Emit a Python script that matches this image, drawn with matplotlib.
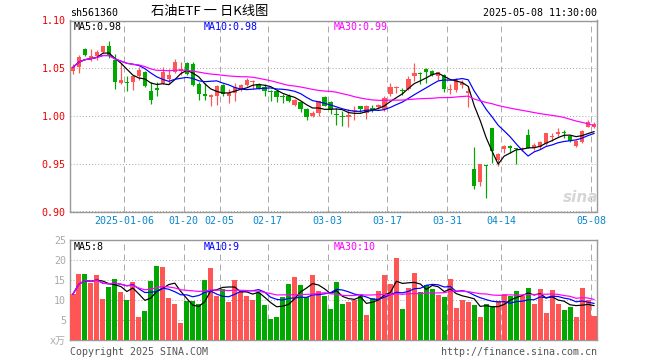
import numpy as np
import pandas as pd
import matplotlib
matplotlib.use("Agg")
import matplotlib.pyplot as plt

W, H = 660, 360

dates = ([f"2024-12-{d:02d}" for d in (23, 24, 25, 26, 27, 30, 31)] +
         [f"2025-01-{d:02d}" for d in (2, 3, 6, 7, 8, 9, 10, 13, 14, 15, 16, 17, 20, 21, 22, 23, 24, 27)] +
         [f"2025-02-{d:02d}" for d in (5, 6, 7, 10, 11, 12, 13, 14, 17, 18, 19, 20, 21, 24, 25, 26, 27, 28)] +
         [f"2025-03-{d:02d}" for d in (3, 4, 5, 6, 7, 10, 11, 12, 13, 14, 17, 18, 19, 20, 21, 24, 25, 26, 27, 28, 31)] +
         [f"2025-04-{d:02d}" for d in (1, 2, 3, 7, 8, 9, 10, 11, 14, 15, 16, 17, 18, 21, 22, 23, 24, 25, 28, 29, 30)] +
         [f"2025-05-{d:02d}" for d in (6, 7, 8)])

opens = [1.047, 1.051, 1.070, 1.061, 1.063, 1.067, 1.073, 1.059, 1.035, 1.036,
         1.036, 1.042, 1.046, 1.026, 1.029, 1.035, 1.039, 1.046, 1.047, 1.055,
         1.054, 1.034, 1.023, 1.020, 1.021, 1.032, 1.021, 1.024, 1.027, 1.032,
         1.036, 1.034, 1.030, 1.026, 1.026, 1.021, 1.021, 1.011, 1.015, 1.007,
         1.000, 1.003, 1.020, 1.015, 1.002, 1.000, 0.999, 1.005, 1.010, 1.003,
         1.008, 1.009, 1.007, 1.023, 1.029, 1.027, 1.028, 1.042, 1.045, 1.049,
         1.047, 1.042, 1.043, 1.027, 1.027, 1.032, 1.024, 0.945, 0.931, 0.949,
         0.987, 0.954, 0.965, 0.969, 0.966, 0.965, 0.980, 0.966, 0.968, 0.971,
         0.978, 0.981, 0.983, 0.979, 0.969, 0.973, 0.989, 0.989]
closes = [1.051, 1.062, 1.064, 1.063, 1.067, 1.073, 1.063, 1.036, 1.038, 1.035,
          1.042, 1.048, 1.031, 1.017, 1.027, 1.046, 1.043, 1.057, 1.049, 1.044,
          1.032, 1.023, 1.021, 1.022, 1.031, 1.023, 1.024, 1.030, 1.032, 1.038,
          1.037, 1.028, 1.026, 1.025, 1.020, 1.020, 1.016, 1.017, 1.007, 0.999,
          1.003, 1.016, 1.010, 1.007, 1.001, 0.999, 1.001, 1.006, 1.007, 1.010,
          1.006, 1.011, 1.019, 1.030, 1.030, 1.026, 1.039, 1.045, 1.044, 1.046,
          1.043, 1.046, 1.028, 1.028, 1.038, 1.035, 1.026, 0.927, 0.950, 0.948,
          0.963, 0.960, 0.969, 0.966, 0.965, 0.966, 0.967, 0.970, 0.973, 0.982,
          0.979, 0.983, 0.982, 0.974, 0.974, 0.984, 0.994, 0.992]
highs = [1.054, 1.064, 1.071, 1.070, 1.069, 1.073, 1.079, 1.065, 1.055, 1.042,
         1.043, 1.051, 1.047, 1.036, 1.036, 1.051, 1.049, 1.060, 1.057, 1.057,
         1.057, 1.036, 1.035, 1.023, 1.032, 1.033, 1.028, 1.035, 1.033, 1.040,
         1.038, 1.035, 1.033, 1.027, 1.027, 1.023, 1.023, 1.018, 1.016, 1.008,
         1.005, 1.016, 1.021, 1.016, 1.008, 1.005, 1.007, 1.010, 1.010, 1.011,
         1.011, 1.013, 1.021, 1.035, 1.031, 1.029, 1.042, 1.056, 1.046, 1.050,
         1.048, 1.046, 1.044, 1.033, 1.040, 1.038, 1.031, 0.968, 0.950, 0.949,
         0.987, 0.961, 0.970, 0.970, 0.967, 0.968, 0.986, 0.972, 0.974, 0.982,
         0.982, 0.987, 0.985, 0.980, 0.975, 0.985, 0.996, 0.994]
lows = [1.044, 1.045, 1.063, 1.058, 1.059, 1.066, 1.061, 1.028, 1.034, 1.026,
        1.027, 1.038, 1.030, 1.013, 1.021, 1.033, 1.033, 1.045, 1.043, 1.043,
        1.031, 1.017, 1.017, 1.010, 1.012, 1.021, 1.014, 1.016, 1.026, 1.031,
        1.028, 1.028, 1.021, 1.016, 1.015, 1.014, 1.015, 1.010, 1.004, 0.996,
        0.999, 1.000, 1.010, 1.002, 0.991, 0.990, 0.989, 0.996, 1.004, 0.997,
        1.004, 1.007, 1.005, 1.021, 1.024, 1.022, 1.027, 1.037, 1.034, 1.035,
        1.042, 1.038, 1.025, 1.023, 1.025, 1.029, 1.009, 0.924, 0.927, 0.914,
        0.951, 0.948, 0.961, 0.961, 0.950, 0.963, 0.966, 0.964, 0.965, 0.970,
        0.974, 0.979, 0.977, 0.973, 0.968, 0.972, 0.988, 0.987]
# volume in 万
volumes = [11.5, 16.5, 16.5, 14.2, 16.2, 10.2, 13.3, 15.2, 11.9, 10.0,
           14.6, 5.8, 7.25, 14.75, 18.5, 18.25, 10.6, 9.0, 4.3, 9.8,
           9.8, 9.0, 15.0, 18.0, 11.0, 12.75, 9.5, 15.0, 11.9, 11.0,
           10.0, 11.8, 8.75, 5.25, 5.75, 10.75, 14.0, 15.75, 13.75, 10.75,
           16.25, 12.25, 11.0, 7.75, 14.5, 9.0, 9.5, 10.0, 11.0, 6.25,
           10.5, 12.25, 16.25, 14.0, 20.5, 7.75, 13.0, 16.75, 12.0, 13.75,
           12.75, 11.25, 10.75, 15.25, 8.0, 10.0, 9.5, 8.75, 5.75, 9.0,
           8.5, 9.75, 11.5, 11.0, 12.25, 11.0, 13.0, 9.0, 12.75, 6.75,
           12.5, 9.0, 7.5, 8.25, 5.75, 13.0, 10.0, 6.0]

tick_dates = ["2025-01-06", "2025-01-20", "2025-02-05", "2025-02-17", "2025-03-03",
              "2025-03-17", "2025-03-31", "2025-04-14", "2025-05-08"]
tick_labels = ["2025-01-06", "01-20", "02-05", "02-17", "03-03", "03-17", "03-31", "04-14", "05-08"]
price_ticks = [0.90, 0.95, 1.00, 1.05, 1.10]
vol_ticks = [0, 5, 10, 15, 20, 25]
vol_tick_labels = ["x万", "5", "10", "15", "20", "25"]

RED = "#ff5555"
GREEN = "#00a800"
GRID = "#aaaaaa"
MONO = ["DejaVu Sans Mono", "Noto Sans CJK SC"]

plt.rcParams["font.family"] = MONO
plt.rcParams["lines.scale_dashes"] = False
FS = 7.2
PX = 0.72  # one pixel in points

df = pd.DataFrame({"date": dates, "open": opens, "close": closes,
                   "high": highs, "low": lows, "vol": volumes})
x = np.arange(len(df))
up = df["close"] >= df["open"]
colors = np.where(up, RED, GREEN)
tick_pos = [dates.index(d) - 0.5 for d in tick_dates]

fig = plt.figure(figsize=(W / 100, H / 100), dpi=100)
ax = fig.add_axes([70 / W, 1 - 211.5 / H, 527 / W, 191 / H])
axv = fig.add_axes([70 / W, 1 - 340 / H, 527 / W, 100 / H])


def style(a):
    for s in a.spines.values():
        s.set_color("#999999")
        s.set_linewidth(PX * 1.4)
    a.set_xlim(-0.5, len(df) - 0.5)
    a.set_xticks(tick_pos)
    a.grid(axis="x", color=GRID, lw=PX, ls=(0, (4.3, 2.9)))
    a.grid(axis="y", color=GRID, lw=PX, ls=(0, (PX, 1.5)))
    a.set_axisbelow(True)
    a.tick_params(length=0)


style(ax)
style(axv)

# candles
ax.vlines(x, df["low"], df["high"], colors=colors, lw=PX * 1.2, zorder=3)
body_lo = np.minimum(df["open"], df["close"])
body_h = np.maximum((df["close"] - df["open"]).abs(), 0.0009)
ax.bar(x, body_h, bottom=body_lo, width=0.72, color=colors, lw=0, zorder=4)

for n, c in ((5, "black"), (10, "#0000ff"), (30, "#ff00ff")):
    ax.plot(x, df["close"].rolling(n, min_periods=1).mean(), color=c, lw=PX * 1.2, zorder=5)
    axv.plot(x, df["vol"].rolling(n, min_periods=1).mean(), color=c, lw=PX * 1.2, zorder=5)

ax.set_ylim(0.90, 1.10)
ax.set_yticks(price_ticks)
ax.set_yticklabels([f"{v:.2f}" for v in price_ticks], color="#ee0000", fontsize=FS)
ax.set_xticklabels(tick_labels, color="#0a86cc", fontsize=FS)
ax.tick_params(axis="x", pad=3)
ax.tick_params(axis="y", pad=3)

axv.bar(x, df["vol"], width=0.84, color=colors, lw=0, zorder=3)
axv.set_ylim(0, 25)
axv.set_yticks(vol_ticks)
axv.set_yticklabels(vol_tick_labels, color="#aaaaaa", fontsize=FS)
axv.set_xticklabels([])
axv.tick_params(axis="y", pad=3)


def ptext(px, py, s, **kw):
    kw.setdefault("fontsize", FS)
    kw.setdefault("va", "center")
    fig.text(px / W, 1 - py / H, s, **kw)


ptext(70, 13, "sh561360")
ptext(210, 12, "石油ETF 一 日K线图", ha="center", fontsize=9.5, family=["Noto Sans CJK SC"])
ptext(597, 13, "2025-05-08 11:30:00", ha="right")

ptext(74, 26.5, "MA5:0.98", color="black")
ptext(204, 26.5, "MA10:0.98", color="#0000ff")
ptext(334, 26.5, "MA30:0.99", color="#ff00ff")
ptext(74, 246.5, "MA5:8", color="black")
ptext(204, 246.5, "MA10:9", color="#0000ff")
ptext(334, 246.5, "MA30:10", color="#ff00ff")

ptext(581, 197, "sina", ha="center", fontsize=11, color="#d6d6d6",
      fontweight="bold", style="italic", family=["DejaVu Sans"])

ptext(70, 352, "Copyright 2025 SINA.COM", color="#555555")
ptext(597, 352, "http://finance.sina.com.cn", ha="right", color="#555555")

fig.savefig("out.png", dpi=100)
